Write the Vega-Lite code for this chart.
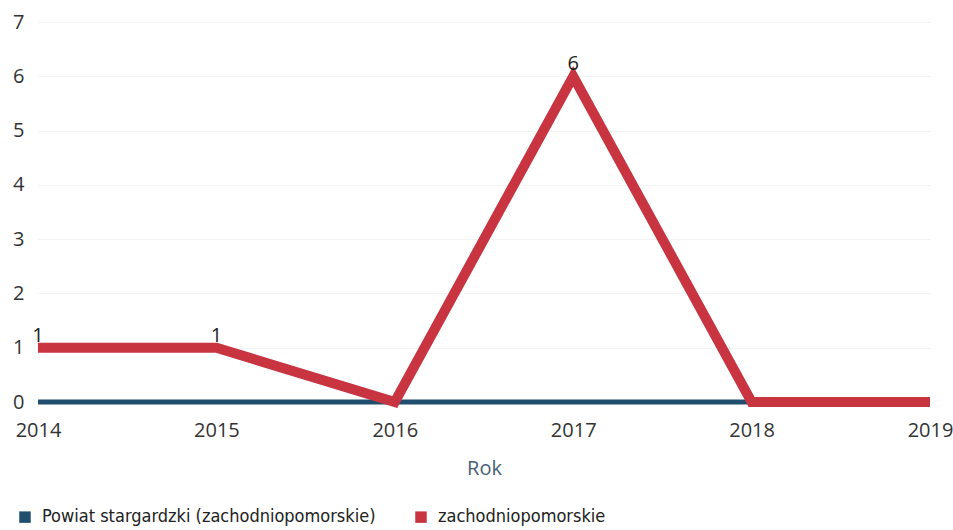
{
  "$schema": "https://vega.github.io/schema/vega-lite/v6.json",
  "width": 892,
  "height": 380,
  "autosize": {"type": "none"},
  "padding": {"left": 38, "top": 22, "right": 23, "bottom": 128},
  "background": "white",
  "config": {
    "font": "Open Sans",
    "view": {"stroke": null},
    "axis": {"domain": false, "ticks": false, "labelColor": "#333333", "labelFontSize": 20}
  },
  "data": {
    "values": [
      {"rok": "2014", "seria": "Powiat stargardzki (zachodniopomorskie)", "wartosc": 0},
      {"rok": "2015", "seria": "Powiat stargardzki (zachodniopomorskie)", "wartosc": 0},
      {"rok": "2016", "seria": "Powiat stargardzki (zachodniopomorskie)", "wartosc": 0},
      {"rok": "2017", "seria": "Powiat stargardzki (zachodniopomorskie)", "wartosc": 0},
      {"rok": "2018", "seria": "Powiat stargardzki (zachodniopomorskie)", "wartosc": 0},
      {"rok": "2019", "seria": "Powiat stargardzki (zachodniopomorskie)", "wartosc": 0},
      {"rok": "2014", "seria": "zachodniopomorskie", "wartosc": 1},
      {"rok": "2015", "seria": "zachodniopomorskie", "wartosc": 1},
      {"rok": "2016", "seria": "zachodniopomorskie", "wartosc": 0},
      {"rok": "2017", "seria": "zachodniopomorskie", "wartosc": 6},
      {"rok": "2018", "seria": "zachodniopomorskie", "wartosc": 0},
      {"rok": "2019", "seria": "zachodniopomorskie", "wartosc": 0}
    ]
  },
  "encoding": {
    "x": {
      "field": "rok", "type": "ordinal",
      "scale": {"type": "point", "padding": 0},
      "axis": {"labelAngle": 0, "labelPadding": 18, "grid": false, "title": "Rok",
               "titleFontSize": 20, "titleFontWeight": "normal", "titleColor": "#4a6079", "titlePadding": 18}
    },
    "y": {
      "field": "wartosc", "type": "quantitative",
      "scale": {"domain": [0, 7]},
      "axis": {"values": [0,1,2,3,4,5,6,7], "title": null, "labelPadding": 14, "grid": true, "gridColor": "#f3f3f5", "gridWidth": 1}
    }
  },
  "layer": [
    {
      "mark": {"type": "line", "strokeWidth": 5},
      "transform": [{"filter": "datum.seria != 'zachodniopomorskie'"}],
      "encoding": {
        "color": {
          "field": "seria", "type": "nominal",
          "scale": {"domain": ["Powiat stargardzki (zachodniopomorskie)", "zachodniopomorskie"], "range": ["#1f4e6e", "#c83440"]},
          "legend": {
            "title": null, "orient": "none", "direction": "horizontal",
            "legendX": -22, "legendY": 486,
            "symbolType": "square", "symbolSize": 30, "symbolStrokeWidth": 6,
            "labelFontSize": 18, "labelFont": "DejaVu Sans Condensed", "labelColor": "#222222",
            "labelLimit": 400, "columnPadding": 30, "labelOffset": 8
          }
        }
      }
    },
    {
      "mark": {"type": "line", "strokeWidth": 10, "color": "#c83440"},
      "transform": [{"filter": "datum.seria == 'zachodniopomorskie'"}],
      "encoding": {
        "color": {"field": "seria", "type": "nominal"}
      }
    },
    {
      "mark": {"type": "text", "dy": -12, "fontSize": 20, "color": "#222222"},
      "transform": [{"filter": "datum.seria == 'zachodniopomorskie' && datum.wartosc > 0"}],
      "encoding": {
        "text": {"field": "wartosc", "type": "quantitative"}
      }
    }
  ]
}
